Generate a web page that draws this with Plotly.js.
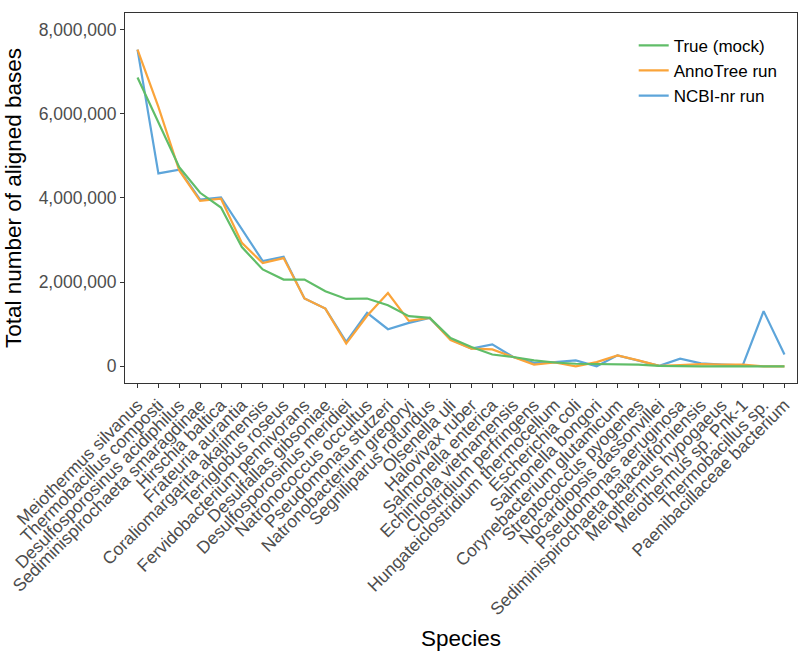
<!DOCTYPE html>
<html>
<head>
<meta charset="utf-8">
<script src="https://cdn.plot.ly/plotly-3.0.1.min.js"></script>
<style>html,body{margin:0;padding:0;background:#fff;}#chart{width:800px;height:656px;}</style>
</head>
<body>
<div id="chart"></div>
<script>
const species = [
  "Meiothermus silvanus","Thermobacillus composti","Desulfosporosinus acidiphilus",
  "Sediminispirochaeta smaragdinae","Hirschia baltica","Frateuria aurantia",
  "Coraliomargarita akajimensis","Terriglobus roseus","Fervidobacterium pennivorans",
  "Desulfallas gibsoniae","Desulfosporosinus meridiei","Natronococcus occultus",
  "Pseudomonas stutzeri","Natronobacterium gregoryi","Segniliparus rotundus",
  "Olsenella uli","Halovivax ruber","Salmonella enterica","Echinicola vietnamensis",
  "Clostridium perfringens","Hungateiclostridium thermocellum","Escherichia coli",
  "Salmonella bongori","Corynebacterium glutamicum","Streptococcus pyogenes",
  "Nocardiopsis dassonvillei","Pseudomonas aeruginosa",
  "Sediminispirochaeta bajacaliforniensis","Meiothermus hypogaeus",
  "Meiothermus sp. Pnk-1","Thermobacillus sp.","Paenibacillaceae bacterium"
];
const trueMock = [6860000,5780000,4730000,4120000,3770000,2830000,2300000,2060000,2060000,1780000,1600000,1610000,1450000,1190000,1150000,670000,460000,280000,220000,140000,90000,60000,50000,50000,40000,10000,0,0,0,0,0,0];
const annoTree = [7520000,6160000,4650000,3930000,3980000,2930000,2450000,2570000,1610000,1370000,540000,1200000,1740000,1080000,1150000,620000,420000,400000,220000,40000,90000,0,100000,260000,140000,10000,30000,50000,40000,40000,0,0];
const ncbiNr = [7520000,4580000,4670000,3960000,4010000,3250000,2500000,2600000,1610000,1370000,580000,1270000,880000,1030000,1150000,640000,420000,520000,220000,80000,100000,140000,0,260000,140000,10000,180000,70000,40000,20000,1310000,280000];
const yTicks = [0,2000000,4000000,6000000,8000000];

const lw = 2.2;
const traces = [
  {x: species, y: ncbiNr, name: "NCBI-nr run", type: "scatter", mode: "lines", line: {color: "#5DA5DA", width: lw}, legendrank: 3},
  {x: species, y: annoTree, name: "AnnoTree run", type: "scatter", mode: "lines", line: {color: "#FAA43A", width: lw}, legendrank: 2},
  {x: species, y: trueMock, name: "True (mock)", type: "scatter", mode: "lines", line: {color: "#60BD68", width: lw}, legendrank: 1}
];
const fontFam = "Liberation Sans, Arial, Helvetica, sans-serif";
const layout = {
  width: 800, height: 656,
  margin: {l: 125, r: 3, t: 13, b: 273},
  paper_bgcolor: "#fff", plot_bgcolor: "#fff",
  font: {family: fontFam, color: "#000"},
  showlegend: true,
  legend: {x: 0.757, y: 0.96, xanchor: "left", yanchor: "top", bgcolor: "rgba(0,0,0,0)", font: {size: 17, color: "#000"}, tracegroupgap: 0},
  xaxis: {
    type: "category", range: [-0.6, 31.6], tickangle: -45,
    tickmode: "array", tickvals: species, ticktext: species,
    showline: true, mirror: true, linecolor: "#333", linewidth: 1,
    ticks: "outside", ticklen: 4, tickcolor: "#333", tickwidth: 1,
    showgrid: false, zeroline: false, automargin: false,
    tickfont: {size: 17.5, color: "#4d4d4d"},
    title: {text: "Species", font: {size: 22.5, color: "#000"}, standoff: 12}
  },
  yaxis: {
    range: [-397000, 8390000], tickvals: yTicks, tickformat: ",d",
    showline: true, mirror: true, linecolor: "#333", linewidth: 1,
    ticks: "outside", ticklen: 4, tickcolor: "#333", tickwidth: 1,
    showgrid: false, zeroline: false, automargin: false,
    tickfont: {size: 17.5, color: "#4d4d4d"},
    title: {text: "Total number of aligned bases", font: {size: 22.5, color: "#000"}, standoff: 10}
  }
};
Plotly.newPlot("chart", traces, layout, {displayModeBar: false, staticPlot: true});
</script>
</body>
</html>
